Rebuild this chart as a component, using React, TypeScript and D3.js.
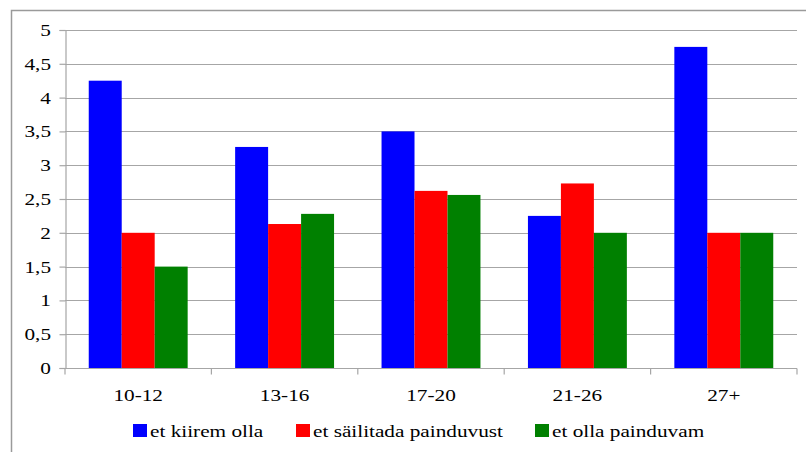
import React, { useRef, useEffect } from 'react';
import * as d3 from 'd3';

const categories = ['10-12', '13-16', '17-20', '21-26', '27+'];
const seriesNames = ['et kiirem olla', 'et säilitada painduvust', 'et olla painduvam'];
const kiirem = [4.25, 3.27, 3.5, 2.25, 4.75];
const sailitada = [2, 2.13, 2.62, 2.73, 2];
const painduvam = [1.5, 2.28, 2.56, 2, 2];
const yTicks = [0, 0.5, 1, 1.5, 2, 2.5, 3, 3.5, 4, 4.5, 5];
const colors = ['#0000ff', '#ff0000', '#008000'];

const W = 806;
const H = 452;
const FONT = "'Liberation Serif', 'DejaVu Serif', 'Times New Roman', serif";
const STRETCH = 1.25;

const App = () => {
  const svgRef = useRef<SVGSVGElement>(null);

  useEffect(() => {
    const svg = d3.select(svgRef.current);
    svg.selectAll('*').remove();
    const left = 65, right = 797, top = 30, bottom = 368;

    // outer frame (only top and left edges visible)
    svg.append('path')
      .attr('d', `M11.5,${H} V10.5 H${W}`)
      .attr('fill', 'none')
      .attr('stroke', '#9a9a9a')
      .attr('stroke-width', 1.5);

    const x0 = d3.scaleBand().domain(categories).range([left, right]).padding(0);
    const x1 = d3.scaleBand().domain(seriesNames).range([0, x0.bandwidth()])
      .paddingInner(0).paddingOuter(0.72);
    const y = d3.scaleLinear().domain([0, 5]).range([bottom, top]);

    // gridlines
    svg.append('g').selectAll('line').data(yTicks.filter(t => t > 0)).enter()
      .append('line')
      .attr('x1', left).attr('x2', right)
      .attr('y1', d => Math.round(y(d)) + 0.5).attr('y2', d => Math.round(y(d)) + 0.5)
      .attr('stroke', '#a6a6a6').attr('stroke-width', 1.2);

    const series = [kiirem, sailitada, painduvam];
    series.forEach((vals, si) => {
      svg.append('g').selectAll('rect').data(vals).enter()
        .append('rect')
        .attr('x', (d, i) => (x0(categories[i]) as number) + (x1(seriesNames[si]) as number))
        .attr('width', x1.bandwidth())
        .attr('y', d => y(d))
        .attr('height', d => bottom - y(d))
        .attr('fill', colors[si]);
    });

    // text is slightly stretched horizontally in the original
    const label = (g: any, x: number, yy: number, txt: string, anchor: string) =>
      g.append('text')
        .attr('transform', `translate(${x},${yy}) scale(${STRETCH},1)`)
        .attr('text-anchor', anchor)
        .attr('fill', '#000')
        .style('font-family', FONT)
        .style('font-size', '17px')
        .text(txt);

    // y axis
    const ya = svg.append('g')
      .attr('transform', `translate(${left + 0.5},0)`)
      .call(d3.axisLeft(y).tickValues(yTicks).tickSize(6).tickFormat(() => ''));
    ya.select('.domain').attr('stroke', '#a6a6a6').attr('stroke-width', 1.2);
    ya.selectAll('.tick line').attr('stroke', '#a6a6a6').attr('stroke-width', 1.2);
    ya.selectAll('.tick text').remove();
    const yl = svg.append('g');
    yTicks.forEach(t => label(yl, 51, y(t) + 6, String(t).replace('.', ','), 'end'));

    // x axis
    const xa = svg.append('g')
      .attr('transform', `translate(0,${bottom + 0.5})`);
    xa.append('line').attr('x1', left).attr('x2', right)
      .attr('stroke', '#a6a6a6').attr('stroke-width', 1.2);
    const bounds = categories.map(c => x0(c) as number).concat([right]);
    xa.selectAll('line.tk').data(bounds).enter().append('line')
      .attr('class', 'tk')
      .attr('x1', d => d).attr('x2', d => d).attr('y1', 0).attr('y2', 6)
      .attr('stroke', '#a6a6a6').attr('stroke-width', 1.2);
    categories.forEach(c =>
      label(xa, (x0(c) as number) + x0.bandwidth() / 2, 32.5, c, 'middle'));

    // legend
    const legendX = [133, 296, 535];
    const lg = svg.append('g');
    seriesNames.forEach((name, i) => {
      lg.append('rect').attr('x', legendX[i]).attr('y', 424)
        .attr('width', 14).attr('height', 13).attr('fill', colors[i]);
      label(lg, legendX[i] + 17, 437, name, 'start');
    });
  }, []);

  return (
    <svg ref={svgRef} width={W} height={H}
      style={{ position: 'absolute', left: 0, top: 0, background: '#fff' }} />
  );
};

export default App;
